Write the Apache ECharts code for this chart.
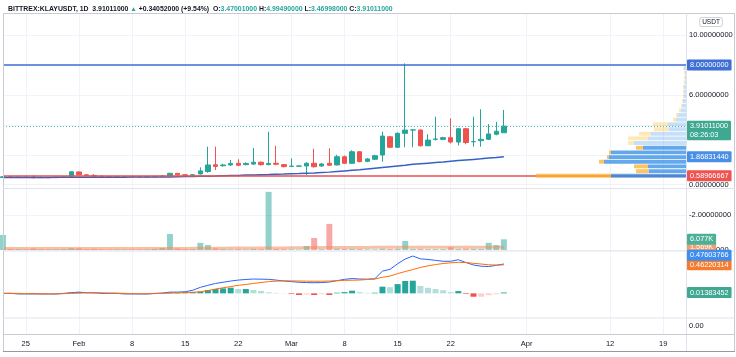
<!DOCTYPE html>
<html><head><meta charset="utf-8">
<script src="https://cdn.jsdelivr.net/npm/echarts@6/dist/echarts.min.js"></script>
<style>html,body{margin:0;padding:0;background:#fff}#c{width:736px;height:357px}</style>
</head><body><div id="c"></div>
<script>
// ---------- categories ----------
const firstDay = [2021, 0, 22];
const dayCount = 91; // Jan 22 .. Apr 22
const dates = [];
for (let i = 0; i < dayCount; i++) {
  const d = new Date(Date.UTC(firstDay[0], firstDay[1], firstDay[2] + i));
  dates.push(d.toISOString().slice(0, 10));
}
const tickLabels = {
  '2021-01-25': '25', '2021-02-01': 'Feb', '2021-02-08': '8', '2021-02-15': '15',
  '2021-02-22': '22', '2021-03-01': 'Mar', '2021-03-08': '8', '2021-03-15': '15',
  '2021-03-22': '22', '2021-04-01': 'Apr', '2021-04-12': '12', '2021-04-19': '19'
};

// ---------- candles (Jan 22 .. Mar 29) ----------
const opens  = [0.48,0.53,0.49,0.51,0.52,0.47,0.48,0.47,0.49,0.52,0.85,0.66,0.62,0.56,0.55,0.54,0.53,0.54,0.53,0.52,
                0.52,0.56,0.60,0.76,0.66,0.64,0.72,0.88,1.33,1.27,1.32,1.43,1.34,1.38,1.50,1.34,1.43,1.34,1.22,1.24,
                1.25,1.43,1.25,1.43,1.32,1.87,1.43,2.20,1.56,1.70,1.98,3.20,2.50,3.43,3.65,3.65,2.60,3.03,3.03,3.14,
                2.85,3.74,2.87,2.94,3.03,3.37,3.47001];
const closes = [0.53,0.49,0.51,0.49,0.47,0.48,0.47,0.49,0.51,0.86,0.66,0.62,0.56,0.55,0.54,0.53,0.54,0.53,0.52,0.53,
                0.56,0.58,0.76,0.66,0.64,0.66,0.92,1.32,1.22,1.32,1.42,1.30,1.42,1.50,1.34,1.42,1.37,1.21,1.24,1.25,
                1.43,1.20,1.38,1.30,1.87,1.43,2.20,1.54,1.72,1.94,3.25,2.50,3.43,3.65,3.66,2.60,2.98,3.05,3.14,2.85,
                3.74,2.82,2.88,3.03,3.39,3.5696,3.91011];
const lows   = [0.45,0.46,0.47,0.47,0.42,0.45,0.45,0.46,0.47,0.50,0.62,0.58,0.50,0.52,0.52,0.51,0.51,0.51,0.50,0.50,
                0.50,0.54,0.58,0.63,0.61,0.62,0.68,0.80,0.98,1.20,1.25,1.25,1.30,1.32,1.28,1.30,1.30,1.15,1.18,1.20,
                0.65,1.15,1.20,1.25,1.28,1.40,1.40,1.50,1.50,1.65,1.54,2.45,2.45,2.50,2.50,2.55,2.58,2.95,2.98,2.75,
                2.62,2.70,2.54,2.54,2.98,3.30,3.46998];
const highs  = [0.56,0.55,0.53,0.52,0.62,0.56,0.50,0.51,0.53,0.90,0.90,0.68,0.70,0.62,0.57,0.56,0.56,0.56,0.55,0.55,
                0.58,0.62,0.80,0.78,0.68,0.70,1.16,2.54,2.54,1.40,1.65,1.70,1.50,2.45,1.55,3.54,2.60,1.38,1.76,1.30,
                1.50,2.40,1.45,2.43,2.00,1.95,2.30,2.25,1.78,2.00,3.54,3.25,3.50,8.10,3.70,3.70,3.37,4.54,3.20,4.43,
                3.78,3.78,4.54,5.04,4.05,4.20,4.9949];
const priceMA = [0.48,0.48,0.48,0.48,0.48,0.48,0.48,0.49,0.49,0.49,0.49,0.49,0.50,0.50,0.50,0.50,0.50,0.51,0.51,0.51,
                 0.52,0.52,0.52,0.53,0.54,0.55,0.56,0.57,0.58,0.60,0.61,0.62,0.64,0.65,0.67,0.68,0.70,0.71,0.73,0.74,
                 0.76,0.78,0.81,0.84,0.88,0.92,0.96,1.00,1.05,1.10,1.15,1.20,1.25,1.30,1.36,1.40,1.44,1.48,1.52,1.57,
                 1.61,1.65,1.69,1.73,1.78,1.82,1.8683144];
const levelHigh = 8.0;
const levelLow = 0.58966667;

// ---------- volume (K) ----------
const volumes = [8.5,0.6,0.5,0.4,0.8,0.4,0.3,0.4,0.5,1.0,0.9,0.5,0.6,0.4,0.3,0.3,0.3,0.3,0.3,0.3,
                 0.6,1.2,9.1,0.8,0.5,0.5,4.1,2.8,0.9,0.5,0.4,0.5,0.4,0.6,0.5,33.0,0.6,0.5,0.4,0.3,
                 2.3,6.8,0.5,14.8,0.7,0.6,0.6,0.6,0.4,0.4,0.8,0.6,0.7,5.1,0.6,0.7,0.5,0.5,0.5,1.5,
                 0.6,0.8,0.7,0.6,4.1,2.8,6.077];
const volumeMA = [0.8,0.8,0.8,0.8,0.8,0.8,0.8,0.8,0.8,0.8,0.8,0.8,0.8,0.8,0.8,0.8,0.8,0.8,0.8,0.8,
                  0.8,0.85,0.9,0.9,0.9,0.95,1.0,1.05,1.05,1.05,1.1,1.1,1.1,1.1,1.1,1.2,1.2,1.2,1.25,1.25,
                  1.3,1.35,1.35,1.4,1.45,1.45,1.45,1.45,1.45,1.5,1.5,1.5,1.5,1.5,1.5,1.5,1.5,1.5,1.5,1.5,
                  1.5,1.5,1.5,1.5,1.52,1.54,1.569];
const volumeAxisText = {20: '-2.00000000', 0: '0.00000000'};

// ---------- MACD ----------
const macdLine = [0.00,0.00,-0.01,-0.01,-0.01,-0.01,-0.01,-0.01,0.00,0.01,0.02,0.01,0.01,0.00,0.00,0.00,-0.01,-0.01,-0.01,-0.01,
                  0.00,0.005,0.02,0.02,0.026,0.05,0.097,0.13,0.16,0.18,0.20,0.215,0.225,0.232,0.23,0.227,0.215,0.20,0.19,0.18,
                  0.175,0.172,0.175,0.183,0.205,0.227,0.24,0.232,0.23,0.237,0.36,0.39,0.48,0.557,0.605,0.56,0.55,0.535,0.52,0.52,
                  0.545,0.50,0.46,0.44,0.435,0.455,0.47603766];
const signalLine = [0.00,0.00,0.00,-0.005,-0.005,-0.01,-0.01,-0.01,-0.005,0.00,0.005,0.008,0.01,0.008,0.005,0.003,0.00,-0.005,-0.007,-0.008,
                    -0.005,0.00,0.004,0.008,0.012,0.018,0.026,0.045,0.07,0.09,0.11,0.13,0.145,0.16,0.176,0.19,0.198,0.203,0.202,0.20,
                    0.198,0.196,0.197,0.20,0.205,0.21,0.213,0.216,0.224,0.232,0.26,0.28,0.32,0.354,0.386,0.42,0.446,0.467,0.484,0.495,
                    0.503,0.50,0.487,0.476,0.463,0.459,0.46220314];
const histogram = [0.0,-0.01,-0.01,-0.005,-0.01,-0.008,0.0,0.0,0.005,0.01,0.015,0.005,-0.005,-0.008,-0.008,-0.005,-0.008,-0.005,-0.004,-0.003,
                   0.003,0.005,0.01,0.012,0.014,0.02,0.027,0.054,0.07,0.081,0.092,0.07,0.07,0.054,0.038,0.016,0.008,0.003,-0.01,-0.027,
                   -0.02,-0.027,-0.015,-0.027,0.01,0.02,0.043,0.02,0.008,0.01,0.108,0.10,0.15,0.20,0.205,0.12,0.09,0.07,0.05,0.02,
                   0.037,-0.01,-0.055,-0.055,-0.03,-0.015,0.01383452];

// ---------- visible range volume profile ----------
const profileLow  = [0.44,0.75,1.07,1.38,1.69,2.00,2.31,2.63,2.94,3.25,3.56,3.88,4.19,4.50,4.81,5.12,5.44,5.75,6.06,6.37,6.69,7.00,7.31,7.62];
const profileStep = 0.312;
const profileUp   = [75,37,38,82,77,75,43,52,38,35,17,18,10,8,5,4,3,2,2,2,1,1,1,2];
const profileDown = [75,13,14,5,2,2,7,6,20,12,15,15,3,2,2,1,1,1,1,1,1,1,1,1];
const profileValueAreaRows = 7;

// ---------- header ----------
const symbolText = 'BITTREX:KLAYUSDT, 1D';
const lastText = '3.91011000', changeText = '+0.34052000 (+9.54%)';
const ohlcText = {O: '3.47001000', H: '4.99490000', L: '3.46998000', C: '3.91011000'};
const countdown = '08:26:03';

// ---------- styling ----------
const UP = '#26a69a', DOWN = '#ef5350';
const FONT = '"Liberation Sans", Arial, sans-serif';
const GRID_C = '#f0f3fa';
const txt = {fontSize: 7.5, color: '#131722', fontFamily: FONT};
const HF = 6.9;

const chart = echarts.init(document.getElementById('c'));
const showTick = (i, v) => tickLabels[v] !== undefined;
const L = 3, R = 50;

const option = {
  animation: false,
  title: {
    left: 3, top: 1,
    text: `{b|${symbolText}}  {n|${lastText}} {g|▲} {n|${changeText}}  {b|O:}{v|${ohlcText.O}} {b|H:}{v|${ohlcText.H}} {b|L:}{v|${ohlcText.L}} {b|C:}{v|${ohlcText.C}}`,
    textStyle: {
      fontSize: HF, fontFamily: FONT,
      rich: {
        b: {fontWeight: 'bold', color: '#131722', fontSize: HF, fontFamily: FONT},
        n: {color: '#131722', fontSize: HF, fontFamily: FONT},
        g: {color: UP, fontSize: 6.5, fontFamily: FONT},
        v: {color: UP, fontSize: HF, fontFamily: FONT}
      }
    }
  },
  grid: [
    {left: L, right: R, top: 35, height: 149.7},
    {left: L, right: R, top: 188, height: 62},
    {left: L, right: R, top: 250.2, height: 67.8},
    {left: L, right: R, top: 318, height: 16},
    {left: L, right: R, top: 13, height: 321}
  ],
  xAxis: [
    {type: 'category', gridIndex: 0, data: dates, boundaryGap: false, show: false},
    {type: 'value', gridIndex: 0, inverse: true, min: 0, max: 683, show: false},
    {type: 'category', gridIndex: 1, data: dates, boundaryGap: false, show: false},
    {type: 'category', gridIndex: 2, data: dates, boundaryGap: false, show: false},
    {type: 'category', gridIndex: 3, data: dates, boundaryGap: false, show: false},
    {type: 'category', gridIndex: 4, data: dates, boundaryGap: false,
     axisLine: {show: false}, axisTick: {show: false},
     axisLabel: Object.assign({interval: showTick, formatter: v => tickLabels[v] || '', margin: 6}, txt),
     splitLine: {show: true, interval: showTick, lineStyle: {color: GRID_C, width: 1}}}
  ],
  yAxis: [
    {type: 'value', gridIndex: 0, position: 'right', min: 0, max: 10, interval: 2,
     axisLine: {show: false}, axisTick: {show: false},
     axisLabel: Object.assign({margin: 3, formatter: v => (v === 0 || v === 6 || v === 10) ? v.toFixed(8) : ''}, txt),
     splitLine: {lineStyle: {color: GRID_C}}},
    {type: 'value', gridIndex: 1, position: 'right', min: 0, max: 35.2, interval: 20,
     axisLine: {show: false}, axisTick: {show: false},
     axisLabel: Object.assign({margin: 3, formatter: v => volumeAxisText[v] || ''}, txt),
     splitLine: {lineStyle: {color: GRID_C}}},
    {type: 'value', gridIndex: 2, position: 'right', min: -0.4, max: 0.7, show: false},
    {type: 'value', gridIndex: 3, position: 'right', min: -1, max: 1, interval: 1,
     axisLine: {show: false}, axisTick: {show: false}, splitLine: {show: false},
     axisLabel: Object.assign({margin: 3, formatter: v => v === 0 ? '0.00' : ''}, txt)},
    {type: 'value', gridIndex: 4, show: false}
  ],
  series: [
    {
      type: 'candlestick', xAxisIndex: 0, yAxisIndex: 0, barWidth: 5, z: 3,
      data: opens.map((o, i) => [o, closes[i], lows[i], highs[i]]),
      itemStyle: {color: UP, color0: DOWN, borderColor: UP, borderColor0: DOWN, borderWidth: 1},
      markLine: {
        silent: true, symbol: 'none', label: {show: false}, animation: false,
        data: [
          {yAxis: levelHigh, lineStyle: {color: '#3d6fd4', width: 1.5, type: 'solid'}},
          {yAxis: levelLow, lineStyle: {color: '#e8524c', width: 1.5, type: 'solid'}},
          {yAxis: closes[closes.length - 1], lineStyle: {color: UP, width: 1, type: [1, 2], opacity: 0.8}}
        ]
      }
    },
    {type: 'line', xAxisIndex: 0, yAxisIndex: 0, data: priceMA, symbol: 'none', z: 4,
     lineStyle: {color: '#3462c4', width: 1.5}},
    {
      type: 'custom', xAxisIndex: 1, yAxisIndex: 0, z: 6,
      data: profileLow.map((lo, i) => [lo, lo + profileStep, profileUp[i], profileDown[i], i < profileValueAreaRows ? 1 : 0]),
      renderItem: function (params, api) {
        const lo = api.value(0), hi = api.value(1), up = api.value(2), dn = api.value(3), va = api.value(4);
        const p0 = api.coord([0, lo]);
        const p1 = api.coord([up, hi]);
        const p2 = api.coord([up + dn, hi]);
        const y = p1[1] + 0.4, h = Math.max(p0[1] - p1[1] - 0.8, 1);
        return {type: 'group', children: [
          {type: 'rect', shape: {x: p1[0], y: y, width: p0[0] - p1[0], height: h},
           style: {fill: va ? 'rgba(33,131,230,0.7)' : 'rgba(33,131,230,0.25)'}},
          {type: 'rect', shape: {x: p2[0], y: y, width: p1[0] - p2[0], height: h},
           style: {fill: va ? 'rgba(251,176,45,0.75)' : 'rgba(251,192,45,0.35)'}}
        ]};
      }
    },
    {type: 'bar', xAxisIndex: 2, yAxisIndex: 1, data: volumes, barWidth: 6,
     itemStyle: {color: p => closes[p.dataIndex] >= opens[p.dataIndex] ? 'rgba(38,166,154,0.5)' : 'rgba(239,83,80,0.5)'}},
    {type: 'line', xAxisIndex: 2, yAxisIndex: 1, data: volumeMA, symbol: 'none',
     lineStyle: {color: 'rgba(242,140,90,0.55)', width: 3}},
    {type: 'bar', xAxisIndex: 3, yAxisIndex: 2, data: histogram, barWidth: 6,
     itemStyle: {color: p => {
       const v = histogram[p.dataIndex], prev = p.dataIndex > 0 ? histogram[p.dataIndex - 1] : 0;
       if (v >= 0) return v >= prev ? '#26a69a' : '#b2dfdb';
       return v < prev ? '#ef5350' : '#ffcdd2';
     }}},
    {type: 'line', xAxisIndex: 3, yAxisIndex: 2, data: macdLine, symbol: 'none', lineStyle: {color: '#2962ff', width: 1}},
    {type: 'line', xAxisIndex: 3, yAxisIndex: 2, data: signalLine, symbol: 'none', lineStyle: {color: '#ff6d00', width: 1}}
  ]
};
chart.setOption(option);

// ---------- frame, tags ----------
const W = 736;
const FR = '#c8cbd3', SEP = '#e0e3eb';
const line = (x1, y1, x2, y2, c) => ({type: 'line', silent: true, z: 50, shape: {x1, y1, x2, y2}, style: {stroke: c, lineWidth: 1}});
const py = v => chart.convertToPixel({yAxisIndex: 0}, v);
const vy = v => chart.convertToPixel({yAxisIndex: 1}, v);
const my = v => chart.convertToPixel({yAxisIndex: 2}, v);
const n = closes.length - 1;
const tag = (y, text, color, va) => ({
  type: 'text', x: 687, y: y, z: 100, silent: true,
  style: {text: text, fill: '#fff', fontSize: 7.3, fontFamily: FONT, lineHeight: 8.5,
          backgroundColor: color, padding: [1.5, 3, 1, 3], borderRadius: 1,
          align: 'left', verticalAlign: va || 'middle'}
});
const yMacd = my(macdLine[n]), ySig = my(signalLine[n]);
const yMacdTag = Math.min(yMacd, ySig - 9.5);

chart.setOption({graphic: [
  line(3, 13.5, W - 1, 13.5, FR),
  line(3.5, 13, 3.5, 351, FR),
  line(W - 1.5, 13, W - 1.5, 351, FR),
  line(686.5, 13, 686.5, 351, SEP),
  line(3, 188.5, W - 1, 188.5, SEP),
  line(3, 251, W - 1, 251, SEP),
  line(3, 318, W - 1, 318, SEP),
  line(3, 334.5, W - 1, 334.5, FR),
  line(3, 351.5, W - 1, 351.5, '#9598a1'),
  {type: 'text', x: 711, y: 22, z: 100, silent: true,
   style: {text: 'USDT', fill: '#131722', fontSize: 6.5, fontFamily: FONT, align: 'center', verticalAlign: 'middle',
           backgroundColor: '#fff', borderColor: '#d1d4dc', borderWidth: 1, borderRadius: 2, padding: [1, 2, 0, 2]}},
  tag(py(levelHigh), levelHigh.toFixed(8), '#3d6fd4'),
  tag(py(closes[n]) - 5.5, closes[n].toFixed(8) + '\n' + countdown, '#3fa891', 'top'),
  tag(py(priceMA[n]), priceMA[n].toFixed(8), '#4a8fe6'),
  tag(py(levelLow), levelLow.toFixed(8), '#ef5350'),
  tag(vy(volumeMA[n]), volumeMA[n].toFixed(3) + 'K', '#f0a070'),
  tag(vy(volumes[n]), volumes[n].toFixed(3) + 'K', '#4caf98'),
  tag(ySig, signalLine[n].toFixed(8), '#f57c2e'),
  tag(yMacdTag, macdLine[n].toFixed(8), '#3d8ef0'),
  tag(my(histogram[n]), histogram[n].toFixed(8), '#3fa891')
]});
</script>
</body></html>
